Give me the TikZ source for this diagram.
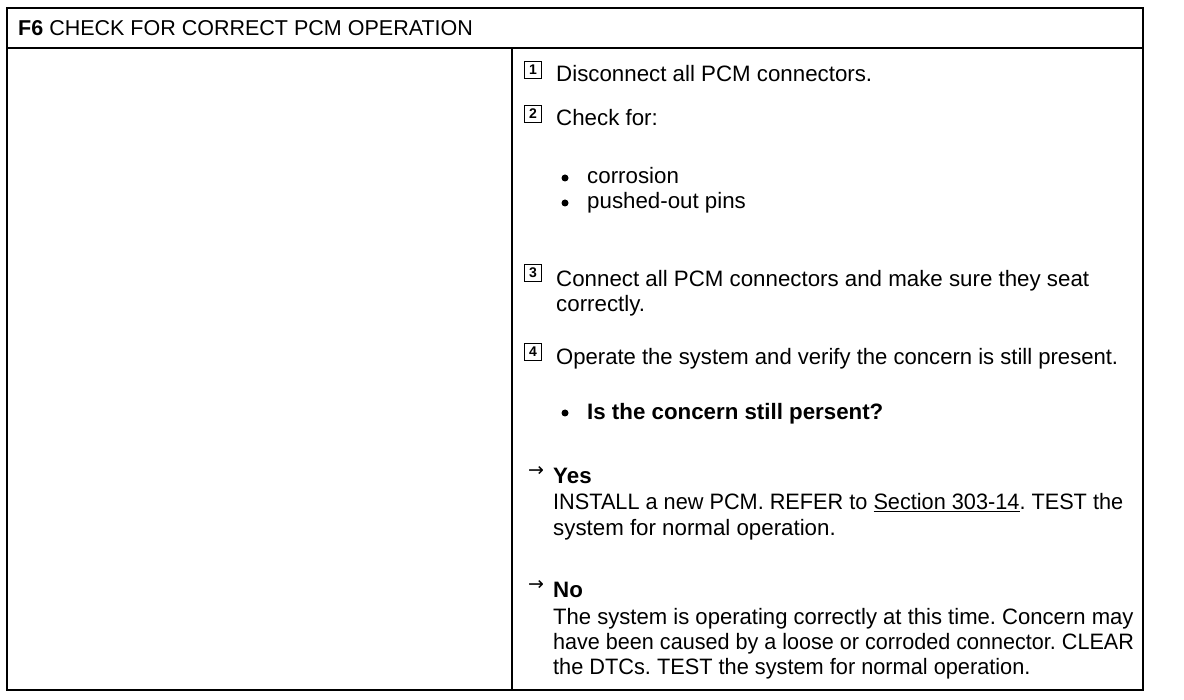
\documentclass[tikz,border=0pt]{standalone}
\usepackage{fontspec}
\setmainfont{Liberation Sans}
\newfontfamily\arrowfont{DejaVu Sans}
\usepackage{tikz}
\frenchspacing

\begin{document}
\begin{tikzpicture}[x=1pt,y=-1pt,
    frame/.style={draw,line width=2.4pt},
    txt/.style={anchor=base west,inner sep=0pt,font=\fontsize{22.3}{25}\selectfont},
    squeeze/.style={transform shape,xscale=#1},
    numbox/.style={draw,line width=1.8pt,minimum size=17pt,inner sep=0pt,font=\bfseries\fontsize{14}{14}\selectfont},
    dot/.style={circle,fill,inner sep=0pt,minimum size=7pt},
    arr/.style={anchor=base west,inner sep=0pt,font=\arrowfont\fontsize{19}{19}\selectfont}]
    \useasboundingbox (0,0) rectangle (1184,700);
    % frame and columns
    \draw[frame] (7,8) rectangle (1143,690);
    \draw[frame] (7,48) -- (1143,48);
    \draw[frame] (512,48) -- (512,690);
    \node[txt,font=\fontsize{21.5}{25}\selectfont] (title) at (18,36) {\textbf{F6} CHECK FOR CORRECT PCM OPERATION};
    % steps
    \node[numbox] (b1) at (533,70) {1};
    \node[txt] (s1) at (556,82) {Disconnect all PCM connectors.};
    \node[numbox] (b2) at (533,114) {2};
    \node[txt] (s2) at (556,126) {Check for:};
    \node[dot] (d1) at (565,178) {};
    \node[txt] (c1) at (587,184) {corrosion};
    \node[dot] (d2) at (565,203) {};
    \node[txt] (c2) at (587,209) {pushed-out pins};
    \node[numbox] (b3) at (533,273) {3};
    \node[txt] (s3) at (556,287) {Connect all PCM connectors and make sure they seat};
    \node[txt] (s3b) at (556,312) {correctly.};
    \node[numbox] (b4) at (533,352) {4};
    \node[txt,squeeze=0.99] (s4) at (556,365) {Operate the system and verify the concern is still present.};
    \node[dot] (d3) at (565,413) {};
    \node[txt] (q) at (587,420) {\textbf{Is the concern still persent?}};
    % answers
    \node[arr] (a1) at (528,477) {→};
    \node[txt] (yes) at (553,484) {\textbf{Yes}};
    \node[txt,squeeze=0.973] (y1) at (553,510) {INSTALL a new PCM. REFER to \underline{Section 303-14}. TEST the};
    \node[txt] (y2) at (553,535) {system for normal operation.};
    \node[arr] (a2) at (528,590) {→};
    \node[txt] (no) at (553,597) {\textbf{No}};
    \node[txt,squeeze=0.99] (n1) at (553,624) {The system is operating correctly at this time. Concern may};
    \node[txt,squeeze=0.968] (n2) at (553,649) {have been caused by a loose or corroded connector. CLEAR};
    \node[txt,squeeze=0.975] (n3) at (553,674) {the DTCs. TEST the system for normal operation.};
\end{tikzpicture}
\end{document}
